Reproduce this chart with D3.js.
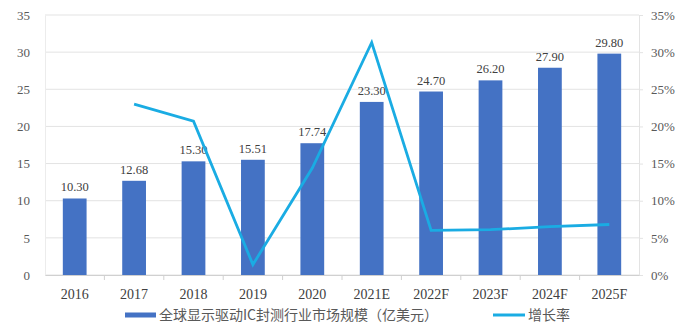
<!DOCTYPE html>
<html>
<head>
<meta charset="utf-8">
<script src="https://cdn.jsdelivr.net/npm/d3@7"></script>
<style>
  body { margin: 0; background: #fff; }
  svg { display: block; }
</style>
</head>
<body>
<div id="chart"></div>
<script>
const years = ["2016", "2017", "2018", "2019", "2020", "2021E", "2022F", "2023F", "2024F", "2025F"];
const marketSize = [10.30, 12.68, 15.30, 15.51, 17.74, 23.30, 24.70, 26.20, 27.90, 29.80];
const growthRate = [null, 0.230, 0.207, 0.014, 0.144, 0.313, 0.060, 0.061, 0.065, 0.068];
const leftTicks = [0, 5, 10, 15, 20, 25, 30, 35];
const rightTicks = [0, 0.05, 0.10, 0.15, 0.20, 0.25, 0.30, 0.35];
const barLabel = "全球显示驱动IC封测行业市场规模（亿美元）";
const lineLabel = "增长率";

const width = 692, height = 325;
const margin = { top: 15, right: 53, bottom: 50, left: 45 };
const barColor = "#4472c4";
const lineColor = "#1aace3";
const textColor = "#595959";
const serif = "'Liberation Serif', 'DejaVu Serif', serif";

const svg = d3.select("#chart").append("svg")
    .attr("width", width)
    .attr("height", height);

const x = d3.scaleBand()
    .domain(years)
    .range([margin.left, width - margin.right])
    .paddingInner(0.6)
    .paddingOuter(0.3);

const y = d3.scaleLinear()
    .domain([0, 35])
    .range([height - margin.bottom, margin.top]);

const y2 = d3.scaleLinear()
    .domain([0, 0.35])
    .range([height - margin.bottom, margin.top]);

// gridlines
svg.append("g")
    .selectAll("line")
    .data(leftTicks)
    .join("line")
    .attr("x1", margin.left)
    .attr("x2", width - margin.right)
    .attr("y1", d => y(d))
    .attr("y2", d => y(d))
    .attr("stroke", "#e3e3e3")
    .attr("stroke-width", 1);

// left axis
const leftAxis = svg.append("g")
    .attr("transform", `translate(${margin.left},0)`)
    .call(d3.axisLeft(y).tickValues(leftTicks).tickSize(0).tickPadding(15));
leftAxis.select(".domain").attr("stroke", "#ececec");
leftAxis.selectAll("text")
    .attr("fill", textColor)
    .style("font-family", serif)
    .style("font-size", "13px");

// right axis
const rightAxis = svg.append("g")
    .attr("transform", `translate(${width - margin.right},0)`)
    .call(d3.axisRight(y2).tickValues(rightTicks).tickSize(4).tickPadding(8).tickFormat(d3.format(".0%")));
rightAxis.select(".domain").attr("stroke", "#e3e3e3");
rightAxis.selectAll(".tick line").attr("stroke", "#e3e3e3");
rightAxis.selectAll("text")
    .attr("fill", textColor)
    .style("font-family", serif)
    .style("font-size", "13px");

// bottom axis
const bottomAxis = svg.append("g")
    .attr("transform", `translate(0,${height - margin.bottom})`)
    .call(d3.axisBottom(x).tickSize(0).tickPadding(14));
bottomAxis.select(".domain").attr("stroke", "#d0d0d0");
bottomAxis.selectAll("text")
    .attr("fill", "#404040")
    .style("font-family", serif)
    .style("font-size", "14px");
// category separator ticks
bottomAxis.append("g")
    .selectAll("line")
    .data(years.slice(1))
    .join("line")
    .attr("x1", d => x(d) - x.step() * x.paddingInner() / 2)
    .attr("x2", d => x(d) - x.step() * x.paddingInner() / 2)
    .attr("y1", 0)
    .attr("y2", 5)
    .attr("stroke", "#d0d0d0");

// bars
svg.append("g")
    .selectAll("rect")
    .data(years)
    .join("rect")
    .attr("x", d => x(d))
    .attr("width", x.bandwidth())
    .attr("y", (d, i) => y(marketSize[i]))
    .attr("height", (d, i) => y(0) - y(marketSize[i]))
    .attr("fill", barColor);

// bar labels
svg.append("g")
    .selectAll("text")
    .data(years)
    .join("text")
    .attr("x", d => x(d) + x.bandwidth() / 2)
    .attr("y", (d, i) => y(marketSize[i]) - 7)
    .attr("text-anchor", "middle")
    .attr("fill", "#404040")
    .style("font-family", serif)
    .style("font-size", "12.5px")
    .text((d, i) => marketSize[i].toFixed(2));

// growth line
const line = d3.line()
    .defined(d => d.v !== null)
    .x(d => x(d.year) + x.bandwidth() / 2)
    .y(d => y2(d.v));

svg.append("path")
    .datum(years.map((year, i) => ({ year, v: growthRate[i] })))
    .attr("d", line)
    .attr("fill", "none")
    .attr("stroke", lineColor)
    .attr("stroke-width", 2.8)
    .attr("stroke-linejoin", "miter");

// legend
const legend = svg.append("g").attr("transform", "translate(0,315)");
legend.append("rect")
    .attr("x", 125).attr("y", -2.5)
    .attr("width", 31).attr("height", 5)
    .attr("fill", barColor);
legend.append("text")
    .attr("x", 159).attr("y", 5)
    .attr("fill", textColor)
    .style("font-family", "'Noto Sans CJK SC', sans-serif")
    .style("font-size", "14px")
    .text(barLabel);
legend.append("line")
    .attr("x1", 493).attr("x2", 525)
    .attr("y1", 0).attr("y2", 0)
    .attr("stroke", lineColor)
    .attr("stroke-width", 3);
legend.append("text")
    .attr("x", 528).attr("y", 5)
    .attr("fill", textColor)
    .style("font-family", "'Noto Sans CJK SC', sans-serif")
    .style("font-size", "14px")
    .text(lineLabel);
</script>
</body>
</html>
